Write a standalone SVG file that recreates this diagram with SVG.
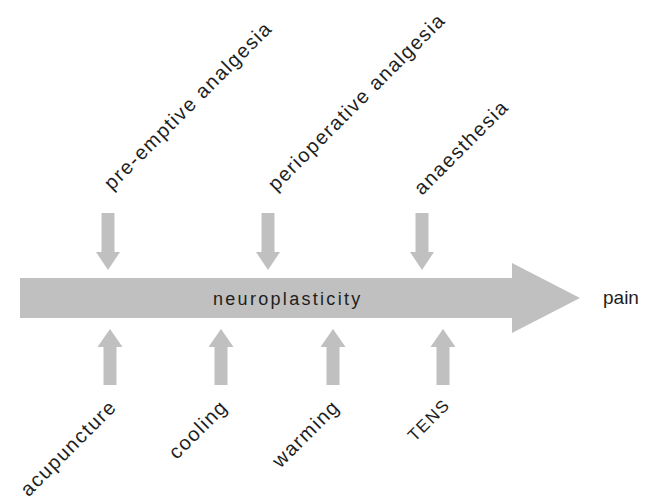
<svg xmlns="http://www.w3.org/2000/svg" width="646" height="499" viewBox="0 0 646 499">
<style>
.arr{fill:#c0c0c0;stroke:none}
.lbl{font-family:"Liberation Sans",Arial,sans-serif;font-size:20px;fill:#1e1e1e;letter-spacing:1.5px}
.hz{font-family:"Liberation Sans",Arial,sans-serif;font-size:18px;fill:#1e1e1e}
</style>
<rect width="646" height="499" fill="#ffffff"/>
<g id="connectors">
<path id="main-arrow" class="arr" d="M20,278 H512 V263 L580,298 L512,333 V318 H20 Z"/>
<path class="arr" d="M101.5,213 H114.5 V252 H120 L108,270 L96,252 H101.5 Z"/>
<path class="arr" d="M261.5,213 H274.5 V252 H280 L268,270 L256,252 H261.5 Z"/>
<path class="arr" d="M415.5,213 H428.5 V252 H434 L422,270 L410,252 H415.5 Z"/>
<path class="arr" d="M103.5,385 H116.5 V347 H122.5 L110,329 L97.5,347 H103.5 Z"/>
<path class="arr" d="M214.5,385 H227.5 V347 H233.5 L221,329 L208.5,347 H214.5 Z"/>
<path class="arr" d="M326.5,385 H339.5 V347 H345.5 L333,329 L320.5,347 H326.5 Z"/>
<path class="arr" d="M436.5,385 H449.5 V347 H455.5 L443,329 L430.5,347 H436.5 Z"/>
</g>
<g id="neuroplasticity"><text class="hz" x="213" y="305" style="letter-spacing:2.3px">neuroplasticity</text></g>
<g id="pain"><text class="hz" x="603" y="304" style="font-size:19px">pain</text></g>
<g id="pre-emptive"><text class="lbl" transform="translate(112,191) rotate(-45)">pre-emptive analgesia</text></g>
<g id="perioperative"><text class="lbl" transform="translate(276,192) rotate(-45)">perioperative analgesia</text></g>
<g id="anaesthesia"><text class="lbl" transform="translate(422,196) rotate(-45)">anaesthesia</text></g>
<g id="acupuncture"><text class="lbl" text-anchor="end" transform="translate(118,408) rotate(-45)">acupuncture</text></g>
<g id="cooling"><text class="lbl" text-anchor="end" transform="translate(229,408) rotate(-45)">cooling</text></g>
<g id="warming"><text class="lbl" text-anchor="end" transform="translate(341,408) rotate(-45)">warming</text></g>
<g id="TENS"><text class="lbl" text-anchor="end" transform="translate(451,406) rotate(-45)" style="font-size:17px">TENS</text></g>
</svg>
